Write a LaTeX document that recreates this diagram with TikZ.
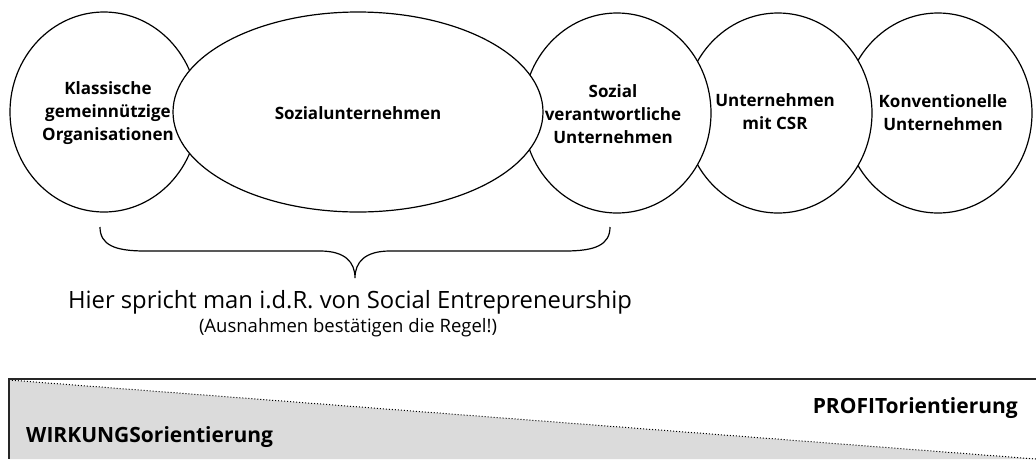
\documentclass[tikz,border=0pt]{standalone}
\usepackage{fontspec}
\setmainfont{Open Sans}
\usepackage{xcolor}
\usetikzlibrary{positioning,shapes.geometric,backgrounds}

\begin{document}
\begin{tikzpicture}[x=1pt,y=-1pt]
      \tikzstyle{rund} = [ellipse, draw, fill=white, line width=1.2pt,
      minimum width=188pt, minimum height=200pt, inner sep=0pt]
      \tikzstyle{txt} = [align=center, inner sep=0pt,
      font=\bfseries\fontsize{17}{23}\selectfont]
      \tikzstyle{orient} = [inner sep=0pt,
      font=\bfseries\fontsize{21}{24}\selectfont]
      \useasboundingbox (0,0) rectangle (1036,459);
      % KREISE
      \node[rund] (konv) at (938,113) {}; \node[rund] (csr) at (778,113) {};
      \node[rund] (sozv) at (617,113) {}; \node[rund] (klass) at (104,112) {};
      \node[rund, minimum width=370pt] (sozu) at (358,112) {};
      \node[txt] (tklass) at (108,113) {Klassische\\gemeinnützige\\Organisationen};
      \node[txt] (tsozu) at (358,113) {Sozialunternehmen};
      \node[txt] (tsozv) at (613,114) {Sozial\\verantwortliche\\Unternehmen};
      \node[txt] (tcsr) at (775,112) {Unternehmen\\mit CSR};
      \node[txt] (tkonv) at (943,113) {Konventionelle\\Unternehmen};
      % KLAMMER
      \coordinate (kl) at (100,227); \coordinate (kr) at (610,227);
      \coordinate (ks) at (355,278);
      \draw[line width=1.2pt] (kl) .. controls (100,245) and (115,251) ..
      (145,251) -- (320,251) .. controls (345,251) and (355,262) .. (ks)
      .. controls (355,262) and (365,251) .. (390,251) -- (565,251)
      .. controls (595,251) and (610,245) .. (kr);
      \node[inner sep=0pt, font=\fontsize{23.8}{28}\selectfont] (se)
      at (350,302) {Hier spricht man i.d.R. von Social Entrepreneurship};
      \node[inner sep=0pt, font=\fontsize{18.5}{22}\selectfont] (ausn)
      at (348,328) {(Ausnahmen bestätigen die Regel!)};
      % ORIENTIERUNG
      \fill[black!14] (9,380) -- (1036,459) -- (9,459) -- cycle;
      \draw[black, dotted, line width=1pt] (9,380) -- (1036,459);
      \draw[line width=1.8pt, black!85] (8,379) -- (1036,379);
      \draw[line width=1.1pt, black!85] (9,379) -- (9,459);
      \node[orient, anchor=east] (profit) at (1018,408) {PROFITorientierung};
      \node[orient, anchor=west] (wirk) at (26,437) {WIRKUNGSorientierung};
    \end{tikzpicture}
\end{document}
